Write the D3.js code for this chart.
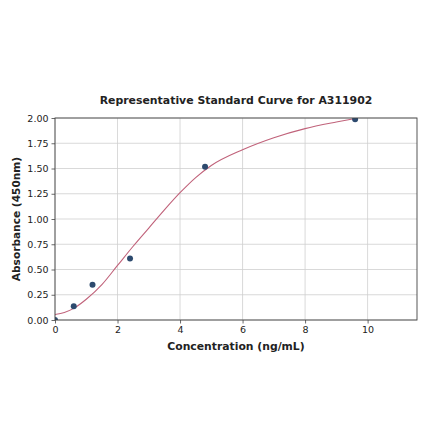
<!DOCTYPE html>
<html>
<head>
<meta charset="utf-8">
<script src="https://cdn.jsdelivr.net/npm/d3@7"></script>
<style>
	body{margin:0;background:#fff;}
	svg text{font-family:"DejaVu Sans",sans-serif;fill:#222;}
</style>
</head>
<body>
<svg id="chart"></svg>
<script>
// measured standards
const conc = [0, 0.6, 1.2, 2.4, 4.8, 9.6];
const absorb = [0.0, 0.135, 0.35, 0.61, 1.517, 1.987];
// fitted curve
const curveX = [0, 0.3, 0.6, 1, 1.5, 2, 2.5, 3, 3.5, 4, 4.5, 5, 6, 7, 8, 9, 9.6];
const curveY = [0.055, 0.075, 0.115, 0.205, 0.35, 0.54, 0.73, 0.91, 1.09, 1.26, 1.41, 1.53, 1.686, 1.805, 1.895, 1.96, 1.995];
const xTicks = [0, 2, 4, 6, 8, 10];
const yTicks = [0, 0.25, 0.5, 0.75, 1, 1.25, 1.5, 1.75, 2];

const width = 440, height = 441;
const m = {left:55, right:23, top:118, bottom:121};
const svg = d3.select('#chart').attr('width',width).attr('height',height);

const x = d3.scaleLinear().domain([0,11.58]).range([m.left, width-m.right]);
const y = d3.scaleLinear().domain([0,2]).range([height-m.bottom, m.top]);

svg.append('defs').append('clipPath').attr('id','clip')
	.append('rect')
	.attr('x',x(0)).attr('y',y(2))
	.attr('width',x(11.58)-x(0)).attr('height',y(0)-y(2));

// grid
svg.append('g').selectAll('line.gx')
	.data(xTicks)
	.join('line')
		.attr('x1',d=>x(d)).attr('x2',d=>x(d))
		.attr('y1',y(0)).attr('y2',y(2))
		.attr('stroke','#cfcfcf').attr('stroke-width',0.8);
svg.append('g').selectAll('line.gy')
	.data(yTicks)
	.join('line')
		.attr('y1',d=>y(d)).attr('y2',d=>y(d))
		.attr('x1',x(0)).attr('x2',x(11.58))
		.attr('stroke','#cfcfcf').attr('stroke-width',0.8);

// curve
const line = d3.line()
	.x(d=>x(d[0]))
	.y(d=>y(d[1]))
	.curve(d3.curveMonotoneX);
svg.append('path')
	.datum(curveX.map((v,i)=>[v,curveY[i]]))
	.attr('d',line)
	.attr('fill','none')
	.attr('stroke','#c0627a')
	.attr('stroke-width',1.1)
	.attr('clip-path','url(#clip)');

// points
svg.append('g').attr('clip-path','url(#clip)')
	.selectAll('circle')
	.data(conc.map((v,i)=>[v,absorb[i]]))
	.join('circle')
		.attr('cx',d=>x(d[0]))
		.attr('cy',d=>y(d[1]))
		.attr('r',3)
		.attr('fill','#2d4a6e');

// axes
const xAxis = d3.axisBottom(x).tickValues(xTicks).tickFormat(d3.format('d')).tickSizeOuter(0).tickSize(3.5).tickPadding(3);
const yAxis = d3.axisLeft(y).tickValues(yTicks).tickFormat(d3.format('.2f')).tickSizeOuter(0).tickSize(3.5).tickPadding(3);
const gx = svg.append('g').attr('transform','translate(0,'+y(0)+')').call(xAxis);
const gy = svg.append('g').attr('transform','translate('+x(0)+',0)').call(yAxis);
[gx,gy].forEach(g=>{
	g.select('.domain').remove();
	g.selectAll('line').attr('stroke','#444').attr('stroke-width',0.8);
	g.selectAll('text').attr('font-size','9.5px').attr('fill','#333').style('font-family','"DejaVu Sans",sans-serif');
});

// frame
svg.append('rect')
	.attr('x',x(0)).attr('y',y(2))
	.attr('width',x(11.58)-x(0)).attr('height',y(0)-y(2))
	.attr('fill','none').attr('stroke','#444').attr('stroke-width',0.9);

// labels
svg.append('text')
	.attr('x',(x(0)+x(11.58))/2).attr('y',104)
	.attr('text-anchor','middle')
	.attr('font-size','10.9px').attr('font-weight','bold')
	.text('Representative Standard Curve for A311902');
svg.append('text')
	.attr('x',(x(0)+x(11.58))/2).attr('y',350)
	.attr('text-anchor','middle')
	.attr('font-size','10.8px').attr('font-weight','bold')
	.text('Concentration (ng/mL)');
svg.append('text')
	.attr('transform','translate(20,'+((y(0)+y(2))/2)+') rotate(-90)')
	.attr('text-anchor','middle')
	.attr('font-size','10.6px').attr('font-weight','bold')
	.text('Absorbance (450nm)');
</script>
</body>
</html>
